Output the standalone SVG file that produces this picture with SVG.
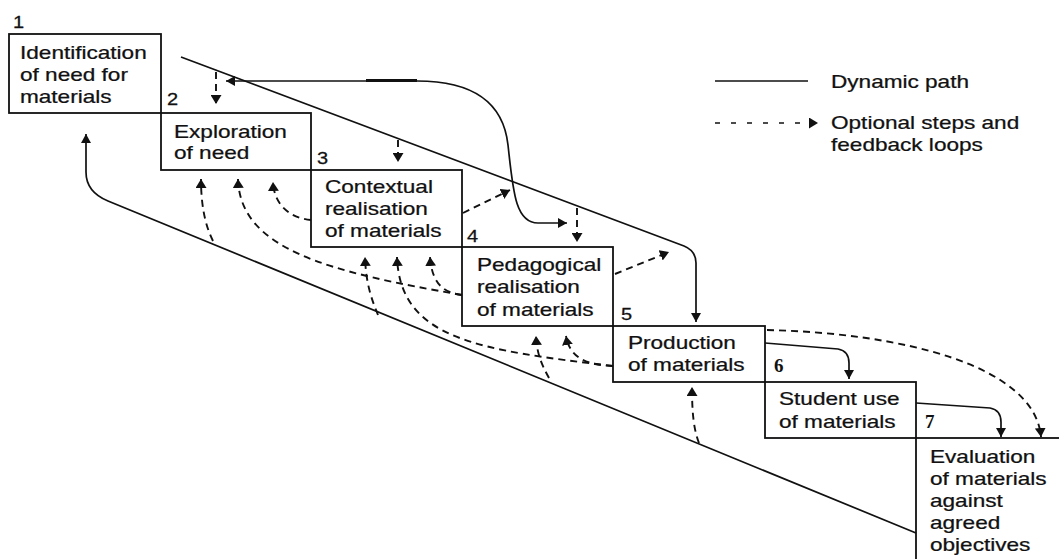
<svg xmlns="http://www.w3.org/2000/svg" width="1059" height="559" viewBox="0 0 1059 559">
<style>
.box{fill:none;stroke:#111;stroke-width:1.8}
.t{font-family:"Liberation Sans",Arial,Helvetica,sans-serif;font-size:18px;fill:#111;stroke:#111;stroke-width:0.25}
.num{font-family:"Liberation Sans",Arial,Helvetica,sans-serif;font-size:16px;fill:#111;stroke:#111;stroke-width:0.25}
.numb{font-family:"Liberation Serif","Times New Roman",serif;font-size:19px;font-weight:bold;fill:#111}
.sol{fill:none;stroke:#111;stroke-width:1.7}
.dash{fill:none;stroke:#111;stroke-width:1.9;stroke-dasharray:7 5}
.dashl{fill:none;stroke:#111;stroke-width:1.6;stroke-dasharray:5 11}
</style>
<defs>
<marker id="ah" viewBox="0 0 9 10" refX="9" refY="5" markerWidth="9" markerHeight="10" markerUnits="userSpaceOnUse" orient="auto">
<path d="M0,0 L9,5 L0,10 z" fill="#111"/>
</marker>
<marker id="ahd" viewBox="0 0 9 11" refX="9" refY="5.5" markerWidth="9" markerHeight="11" markerUnits="userSpaceOnUse" orient="auto">
<path d="M0,0 L9,5.5 L0,11 z" fill="#111"/>
</marker>
</defs>
<rect width="1059" height="559" fill="#fff"/>

<g id="n1">
<rect class="box" x="9" y="34" width="152" height="79"/>
<text class="num" transform="translate(13,0) scale(1.25,1)"><tspan x="0" y="28">1</tspan></text>
<text class="t" transform="translate(20,0) scale(1.255,1)"><tspan x="0" y="59">Identification</tspan><tspan x="0" y="81">of need for</tspan><tspan x="0" y="103">materials</tspan></text>
</g>

<g id="n2">
<rect class="box" x="161" y="113" width="150" height="57"/>
<text class="num" transform="translate(167,0) scale(1.25,1)"><tspan x="0" y="105">2</tspan></text>
<text class="t" transform="translate(174,0) scale(1.255,1)"><tspan x="0" y="138">Exploration</tspan><tspan x="0" y="159">of need</tspan></text>
</g>

<g id="n3">
<rect class="box" x="311" y="170" width="151" height="77"/>
<text class="num" transform="translate(317,0) scale(1.25,1)"><tspan x="0" y="164">3</tspan></text>
<text class="t" transform="translate(325,0) scale(1.255,1)"><tspan x="0" y="193">Contextual</tspan><tspan x="0" y="215">realisation</tspan><tspan x="0" y="237">of materials</tspan></text>
</g>

<g id="n4">
<rect class="box" x="462" y="247" width="151" height="79"/>
<text class="num" transform="translate(467,0) scale(1.25,1)"><tspan x="0" y="242">4</tspan></text>
<text class="t" transform="translate(477,0) scale(1.255,1)"><tspan x="0" y="271">Pedagogical</tspan><tspan x="0" y="293">realisation</tspan><tspan x="0" y="316">of materials</tspan></text>
</g>

<g id="n5">
<rect class="box" x="613" y="326" width="152" height="56"/>
<text class="num" transform="translate(621,0) scale(1.25,1)"><tspan x="0" y="320">5</tspan></text>
<text class="t" transform="translate(628,0) scale(1.255,1)"><tspan x="0" y="349">Production</tspan><tspan x="0" y="371">of materials</tspan></text>
</g>

<g id="n6">
<rect class="box" x="765" y="382" width="151" height="56"/>
<text class="numb" x="774" y="372">6</text>
<text class="t" transform="translate(779,0) scale(1.255,1)"><tspan x="0" y="405">Student use</tspan><tspan x="0" y="428">of materials</tspan></text>
</g>

<g id="n7">
<rect class="box" x="916" y="438" width="200" height="200"/>
<text class="numb" x="925" y="428">7</text>
<text class="t" transform="translate(930,0) scale(1.255,1)"><tspan x="0" y="463">Evaluation</tspan><tspan x="0" y="485">of materials</tspan><tspan x="0" y="507">against</tspan><tspan x="0" y="529">agreed</tspan><tspan x="0" y="551">objectives</tspan></text>
</g>

<g id="connectors">
<path class="sol" d="M181,57 L684,246 Q696,251 696,263 L696,322" marker-end="url(#ah)"/>
<path class="sol" d="M417,81 L226,81" marker-end="url(#ah)"/>
<line x1="366" y1="80.5" x2="417" y2="80.5" stroke="#111" stroke-width="3.2"/>
<path class="sol" d="M417,81 C470,81 503,100 508,145 C513,190 515,223 538,223 L567,223" marker-end="url(#ah)"/>
<path class="sol" d="M765,343 L838,349 Q849,351 849,363 L849,379" marker-end="url(#ah)"/>
<path class="sol" d="M916,403 L990,408 Q1001,410 1001,422 L1001,437" marker-end="url(#ah)"/>
<path class="sol" d="M916,533 L108,201 Q86,192 86,172 L86,134" marker-end="url(#ah)"/>

<path class="dash" d="M216,72 L216,104" marker-end="url(#ahd)"/>
<path class="dash" d="M398,140 L398,162" marker-end="url(#ahd)"/>
<path class="dash" d="M577,208 L577,242" marker-end="url(#ahd)"/>

<path class="dash" d="M463,213 L510,190" marker-end="url(#ahd)"/>
<path class="dash" d="M615,274 L669,252" marker-end="url(#ahd)"/>
<path class="dash" d="M767,330 C900,333 1035,365 1041,437" marker-end="url(#ahd)"/>

<path class="dash" d="M213,241 C205,225 201,205 201,179" marker-end="url(#ahd)"/>
<path class="dash" d="M462,295 C330,272 240,250 238,179" marker-end="url(#ahd)"/>
<path class="dash" d="M311,220 C290,218 274,205 273,182" marker-end="url(#ahd)"/>

<path class="dash" d="M378,315 C372,300 366,285 365,257" marker-end="url(#ahd)"/>
<path class="dash" d="M613,366 C480,350 400,340 397,257" marker-end="url(#ahd)"/>
<path class="dash" d="M462,295 C445,293 432,285 430,257" marker-end="url(#ahd)"/>

<path class="dash" d="M549,378 C542,365 537,355 536,336" marker-end="url(#ahd)"/>
<path class="dash" d="M613,366 C590,365 570,360 566,336" marker-end="url(#ahd)"/>

<path class="dash" d="M699,443 C694,430 692,415 692,387" marker-end="url(#ahd)"/>
</g>

<g id="legend">
<line class="sol" x1="715" y1="81" x2="808" y2="81"/>
<path class="dashl" d="M715,123 L818,123" marker-end="url(#ahd)"/>
<text class="t" transform="translate(831,0) scale(1.255,1)"><tspan x="0" y="88">Dynamic path</tspan><tspan x="0" y="129">Optional steps and</tspan><tspan x="0" y="151">feedback loops</tspan></text>
</g>
</svg>
